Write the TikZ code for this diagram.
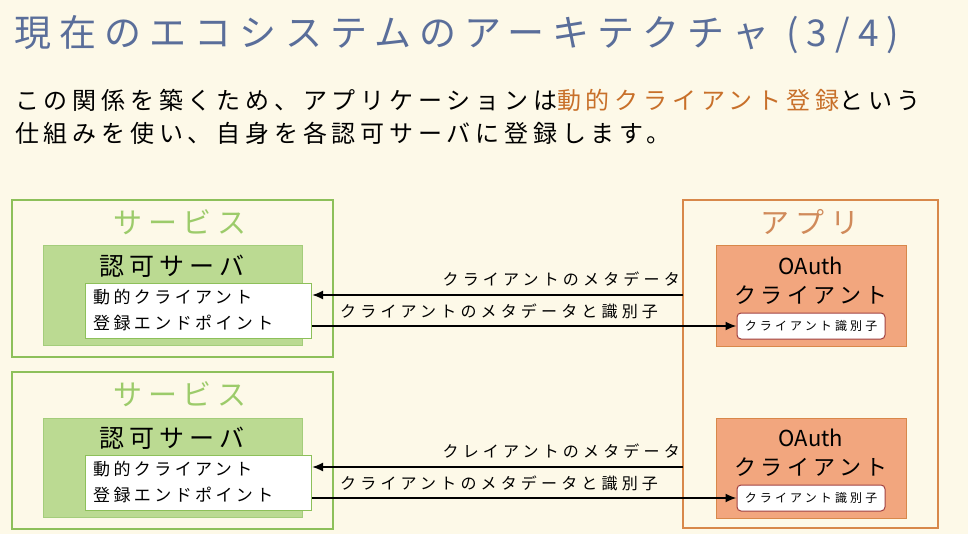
\documentclass[tikz,border=0pt]{standalone}
\usepackage{fontspec}
\setmainfont[LetterSpace=20]{Noto Sans CJK JP}
\newfontfamily\ttlfont[LetterSpace=22]{Noto Sans CJK JP}
\newfontfamily\lblfont[LetterSpace=26]{Noto Sans CJK JP}
\newfontfamily\plainfont{Noto Sans CJK JP}
\usetikzlibrary{arrows.meta}
\definecolor{bg}{HTML}{FDF9E8}
\definecolor{ttl}{HTML}{5A6E9A}
\definecolor{org}{HTML}{C8702A}
\definecolor{gline}{HTML}{8DC05A}
\definecolor{gtxt}{HTML}{9CCB6A}
\definecolor{gfill}{HTML}{BBDA92}
\definecolor{oline}{HTML}{D8884A}
\definecolor{otxt}{HTML}{D08A5A}
\definecolor{ofill}{HTML}{F2A67E}
\definecolor{idline}{HTML}{A04040}
\tikzset{
 svc/.style={draw=gline,line width=2pt,fill=bg},
 auth/.style={draw=gline!80,line width=1pt,fill=gfill},
 ep/.style={draw=gline,line width=1pt,fill=white},
 app/.style={draw=oline,line width=2pt,fill=bg},
 oa/.style={draw=oline,line width=1pt,fill=ofill},
 idb/.style={draw=idline,line width=1pt,fill=white,rounded corners=4pt,minimum width=148pt,minimum height=26pt,inner sep=0pt,font=\lblfont\fontsize{12}{14}\selectfont},
 lbl/.style={font=\lblfont\fontsize{16}{18}\selectfont,inner sep=0pt},
 arr/.style={line width=1.8pt,-{Latex[length=11pt,width=9pt]}},
}
\begin{document}
\begin{tikzpicture}[x=1pt,y=-1pt]
\fill[bg] (0,0) rectangle (968,534);
\useasboundingbox (0,0) rectangle (968,534);
\node[anchor=west,text=ttl,font=\ttlfont\fontsize{37}{40}\selectfont,inner sep=0pt] (title) at (14,35) {現在のエコシステムのアーキテクチャ (3/4)};
\node[anchor=west,font=\fontsize{24}{28}\selectfont,inner sep=0pt] (b1) at (15,100) {この関係を築くため、アプリケーションは\textcolor{org}{動的クライアント登録}という};
\node[anchor=west,font=\fontsize{24}{28}\selectfont,inner sep=0pt] (b2) at (15,133) {仕組みを使い、自身を各認可サーバに登録します。};

% app
\draw[app] (683,200) rectangle (938,528);
\node[text=otxt,font=\fontsize{29}{32}\selectfont] (appt) at (810,222) {アプリ};

\foreach \i/\dy/\lab in {1/0/クライアントのメタデータ,2/172/クレイアントのメタデータ}{
 \draw[svc] (12,200+\dy) rectangle (333,357+\dy);
 \node[text=gtxt,font=\fontsize{29}{32}\selectfont] (svt\i) at (180,222+\dy) {サービス};
 \draw[auth] (43,246+\dy) rectangle (302,345+\dy);
 \node[font=\fontsize{25}{28}\selectfont] (ast\i) at (172,266+\dy) {認可サーバ};
 \node[ep,anchor=north west,minimum width=226pt,minimum height=55pt,inner sep=0pt] (ep\i) at (85,283+\dy) {};
 \node[anchor=west,align=left,font=\fontsize{17}{26}\selectfont,inner sep=0pt] (ept\i) at (93,310+\dy) {動的クライアント\\登録エンドポイント};
 \draw[oa] (716,246+\dy) rectangle (906,346+\dy);
 \node[font=\plainfont\fontsize{22}{26}\selectfont,inner sep=0pt] (oat\i) at (811,266+\dy) {OAuth};
 \node[font=\fontsize{22}{26}\selectfont,inner sep=0pt] (oac\i) at (811,295+\dy) {クライアント};
 \node[idb] (id\i) at (811,326+\dy) {クライアント識別子};
 \coordinate (s\i) at (683,295+\dy);
 \draw[arr] (s\i) -- (ep\i.east |- s\i);
 \draw[arr] (ep\i.east |- id\i) -- (id\i.west);
 \node[lbl,anchor=south east] (l1\i) at (680,287+\dy) {\lab};
 \node[lbl,anchor=south west] (l2\i) at (340,319+\dy) {クライアントのメタデータと識別子};
}
\end{tikzpicture}
\end{document}
